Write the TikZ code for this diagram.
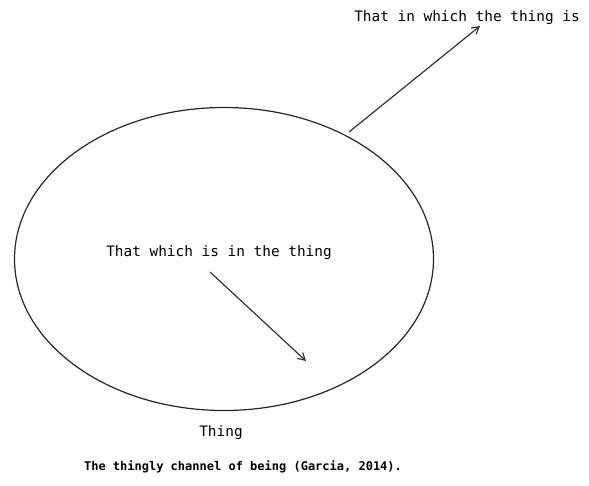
\documentclass[tikz,border=0pt]{standalone}
\usepackage{fontspec}
\setmonofont{DejaVu Sans Mono}
\usetikzlibrary{arrows.meta, shapes.geometric}
\tikzset{
  every picture/.style={font=\ttfamily, line width=0.8pt},
  label/.style={font=\ttfamily\fontsize{14.4}{17}\selectfont, inner sep=0pt},
  caption/.style={font=\ttfamily\bfseries\fontsize{12}{14}\selectfont, inner sep=0pt},
  arrow/.style={-{Straight Barb[length=7pt, width=8pt]}, line width=1.2pt, draw=black!80},
}
\begin{document}
\begin{tikzpicture}[x=1pt, y=-1pt]
  \useasboundingbox (0,0) rectangle (589,485);
  % the thing
  \node[ellipse, draw=black!85, line width=1.2pt, minimum width=419pt, minimum height=303pt] (thing) at (224,259) {};
  \node[label] (name) at (221,433) {Thing};
  % inside and outside
  \node[label] (inner) at (219,253) {That which is in the thing};
  \node[label] (outer) at (467,18) {That in which the thing is};
  \coordinate (rim) at (349,132);
  \coordinate (out) at (480,26);
  \coordinate (start) at (210,272);
  \coordinate (in) at (306,361);
  \draw[arrow] (rim) -- (out);
  \draw[arrow] (start) -- (in);
  \node[caption] (cap) at (243,467) {The thingly channel of being (Garcia, 2014).};
\end{tikzpicture}
\end{document}
